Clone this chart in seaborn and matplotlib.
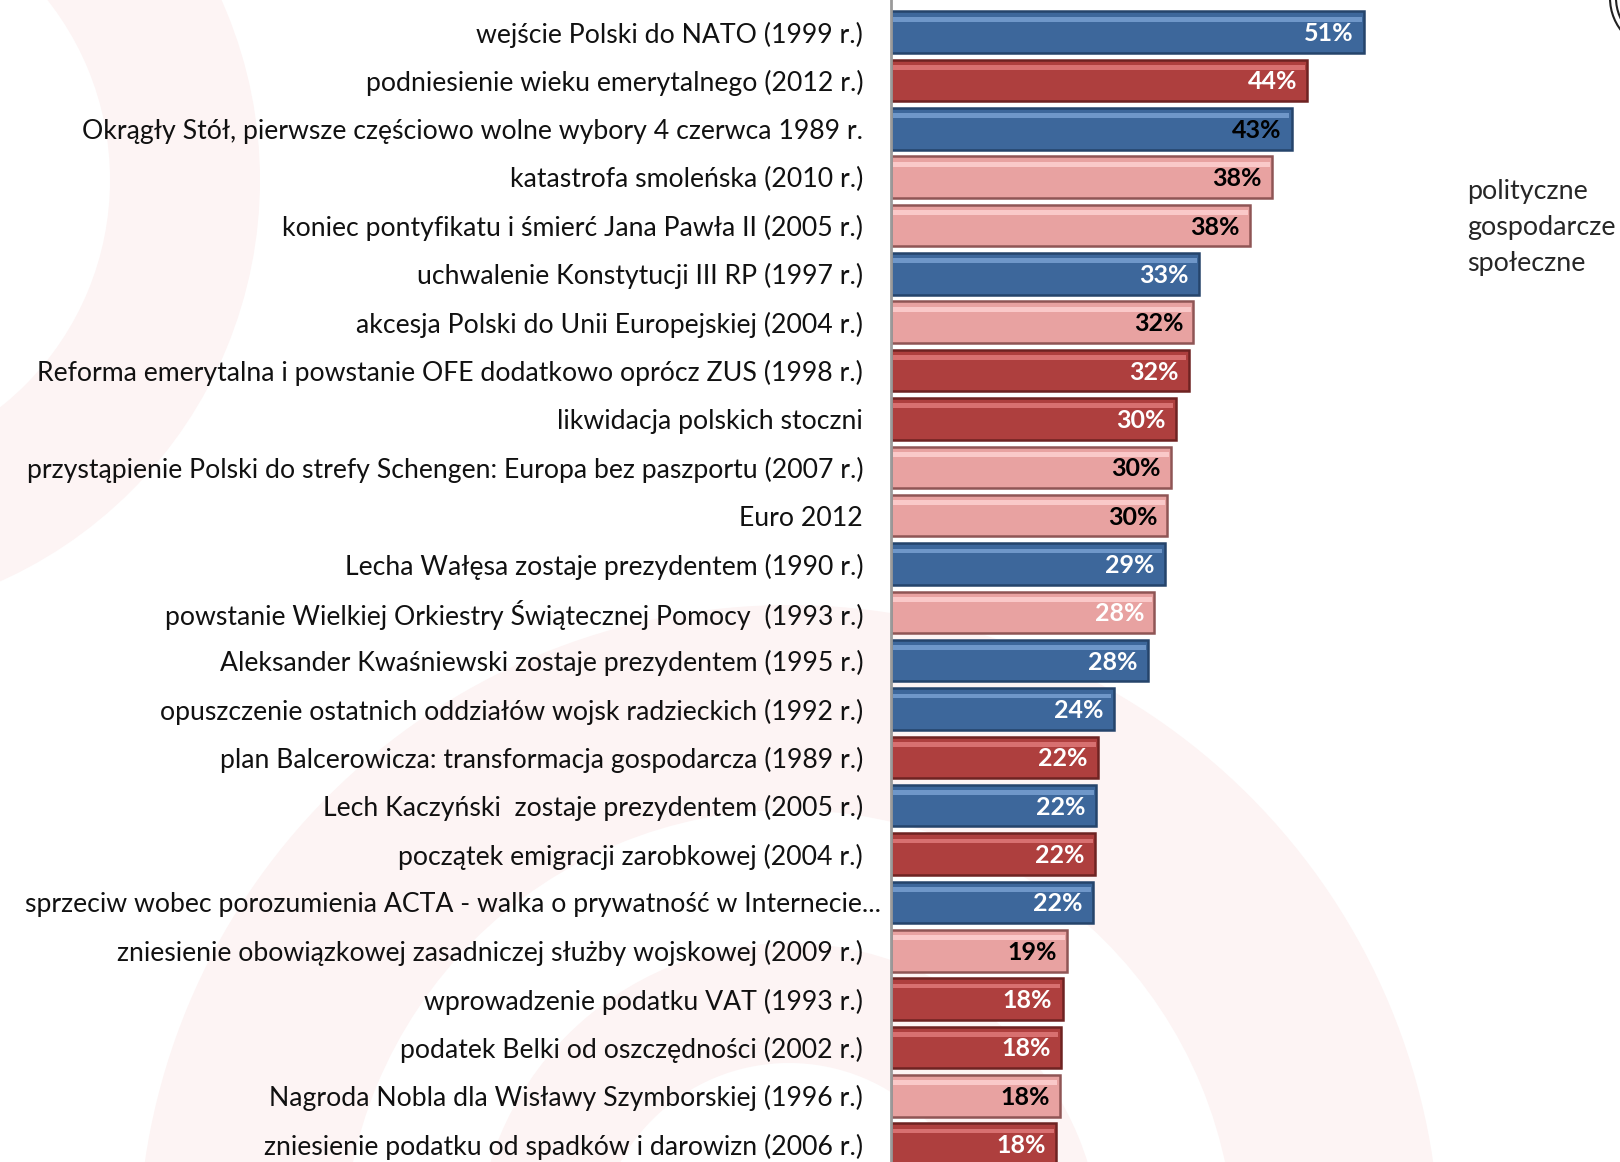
import pandas
import seaborn as sns
from matplotlib import pyplot
from matplotlib.patches import Wedge, Circle
from matplotlib.lines import Line2D
from matplotlib.transforms import ScaledTranslation

sns.set_style("white")
pyplot.rcParams['font.family'] = ['Lato', 'DejaVu Sans']

events = [
    "wejście Polski do NATO (1999 r.)",
    "podniesienie wieku emerytalnego (2012 r.)",
    "Okrągły Stół, pierwsze częściowo wolne wybory 4 czerwca 1989 r.",
    "katastrofa smoleńska (2010 r.)",
    "koniec pontyfikatu i śmierć Jana Pawła II (2005 r.)",
    "uchwalenie Konstytucji III RP (1997 r.)",
    "akcesja Polski do Unii Europejskiej (2004 r.)",
    "Reforma emerytalna i powstanie OFE dodatkowo oprócz ZUS (1998 r.)",
    "likwidacja polskich stoczni",
    "przystąpienie Polski do strefy Schengen: Europa bez paszportu (2007 r.)",
    "Euro 2012",
    "Lecha Wałęsa zostaje prezydentem (1990 r.)",
    "powstanie Wielkiej Orkiestry Świątecznej Pomocy  (1993 r.)",
    "Aleksander Kwaśniewski zostaje prezydentem (1995 r.)",
    "opuszczenie ostatnich oddziałów wojsk radzieckich (1992 r.)",
    "plan Balcerowicza: transformacja gospodarcza (1989 r.)",
    "Lech Kaczyński  zostaje prezydentem (2005 r.)",
    "początek emigracji zarobkowej (2004 r.)",
    "sprzeciw wobec porozumienia ACTA - walka o prywatność w Internecie...",
    "zniesienie obowiązkowej zasadniczej służby wojskowej (2009 r.)",
    "wprowadzenie podatku VAT (1993 r.)",
    "podatek Belki od oszczędności (2002 r.)",
    "Nagroda Nobla dla Wisławy Szymborskiej (1996 r.)",
    "zniesienie podatku od spadków i darowizn (2006 r.)",
]
# bar lengths as measured on the picture
shares = [51, 44.9, 43.2, 41.1, 38.7, 33.2, 32.6, 32.1, 30.7, 30.2, 29.8, 29.5,
          28.4, 27.7, 24.0, 22.3, 22.1, 22.0, 21.8, 19.0, 18.5, 18.3, 18.2, 17.8]
# percentages printed on the bars
share_labels = [51, 44, 43, 38, 38, 33, 32, 32, 30, 30, 30, 29, 28, 28, 24, 22, 22, 22, 22, 19, 18, 18, 18, 18]
categories = [
    "polityczne", "gospodarcze", "polityczne", "społeczne", "społeczne", "polityczne",
    "społeczne", "gospodarcze", "gospodarcze", "społeczne", "społeczne", "polityczne",
    "społeczne", "polityczne", "polityczne", "gospodarcze", "polityczne", "gospodarcze",
    "polityczne", "społeczne", "gospodarcze", "gospodarcze", "społeczne", "gospodarcze",
]
# value labels drawn in black instead of white
dark_labels = [2, 3, 4, 6, 9, 10, 19, 22]

palette = {"polityczne": "#3d679b", "gospodarcze": "#ae3f3e", "społeczne": "#e8a2a1"}
edges = {"polityczne": "#25446b", "gospodarcze": "#6e2322", "społeczne": "#8f5555"}
highlights = {"polityczne": "#6f97c9", "gospodarcze": "#d87070", "społeczne": "#fac9c9"}

df = pandas.DataFrame({"event": events, "value": shares, "cat": categories})

fig = pyplot.figure(figsize=(16.2, 11.62), dpi=100)

# faint watermark rings in the background
bg = fig.add_axes([0, 0, 1, 1], zorder=0)
bg.set_xlim(0, 1620)
bg.set_ylim(1162, 0)
bg.axis('off')
ring_col = "#fdf4f4"
bg.add_patch(Wedge((789, 1256), 651, 0, 360, width=205, color=ring_col, lw=0))
bg.add_patch(Wedge((789, 1256), 313, 0, 360, width=120, color=ring_col, lw=0))
bg.add_patch(Wedge((-180, 180), 440, 0, 360, width=150, color=ring_col, lw=0))
# logo fragment in the corner
bg.add_patch(Circle((1663, -2), 53, fill=False, ec="#222222", lw=1.5))
bg.add_patch(Circle((1663, -2), 47, fill=False, ec="#222222", lw=1.5))

ax = fig.add_axes([891 / 1620, 0, 1 - 891 / 1620, 1], zorder=1)
ax.patch.set_alpha(0)

sns.barplot(data=df, y="event", x="value", hue="cat", palette=palette, orient="h",
            dodge=False, width=0.86, saturation=1, legend=False, ax=ax)

for i, bar in enumerate(sorted(ax.patches, key=lambda p: p.get_y())):
    cat = categories[i]
    bar.set_edgecolor(edges[cat])
    bar.set_linewidth(1.8)
    # light bevel stripe along the top of each bar
    ax.barh(i - 0.27, shares[i] - 0.5, left=0.25, height=0.1, color=highlights[cat],
            lw=0, zorder=3)
    ax.text(shares[i] - 1.1, i + 0.03, f"{share_labels[i]}%", ha="right", va="center",
            fontsize=18, fontweight="bold",
            color="black" if i in dark_labels else "white", zorder=4)

ax.set_xlim(0, 78.6)
ax.set_ylim(23.37, -0.666)
ax.set_xlabel("")
ax.set_ylabel("")
ax.set_xticks([])
ax.tick_params(axis='y', length=0, pad=20, labelsize=19.2)
for lab in ax.get_yticklabels():
    lab.set_color("#111111")
    if lab.get_text().endswith("..."):
        lab.set_transform(lab.get_transform() + ScaledTranslation(0.18, 0, fig.dpi_scale_trans))
sns.despine(ax=ax, left=False, bottom=True)
ax.spines['left'].set_color("#9a9a9a")
ax.spines['left'].set_linewidth(2)

handles = [Line2D([], [], lw=0) for _ in palette]
fig.legend(handles, list(palette), loc="upper left", bbox_to_anchor=(1443 / 1620, 1 - 155 / 1162),
           frameon=False, handlelength=0, handletextpad=0, fontsize=19.4, labelspacing=0.4)

pyplot.savefig("out.png")
